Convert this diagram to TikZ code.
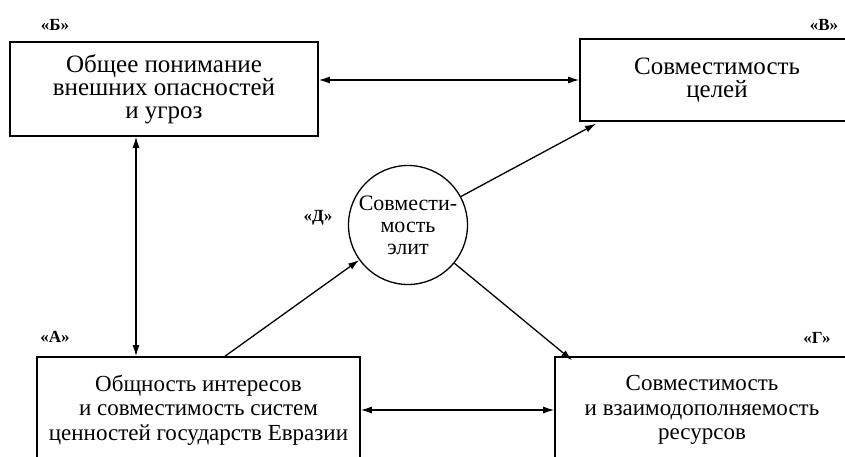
\documentclass[tikz,border=0pt]{standalone}
\usepackage{fontspec}
\setmainfont{Liberation Serif}
\usetikzlibrary{arrows.meta}
\begin{document}
\begin{tikzpicture}[x=1pt,y=-1pt,
  box/.style={draw, line width=1.6pt, align=center, inner sep=0pt,
    font=\fontsize{25}{23}\selectfont},
  smallbox/.style={box, font=\fontsize{23}{24.5}\selectfont},
  lab/.style={font=\bfseries\fontsize{17}{17}\selectfont, inner sep=0pt},
  conn/.style={line width=1.3pt, -{Latex[length=11pt,width=7pt]}},
  bconn/.style={line width=1.3pt, {Latex[length=11pt,width=7pt]}-{Latex[length=11pt,width=7pt]}}]
\useasboundingbox (0,0) rectangle (845,457);
\clip (0,0) rectangle (845,457);
\fill[white] (0,0) rectangle (845,457);
\node[box, minimum width=308pt, minimum height=94pt] (B) at (164,89)
  {Общее понимание\\внешних опасностей\\и угроз};
\node[box, minimum width=274pt, minimum height=82pt] (V) at (717,80)
  {Совместимость\\целей};
\node[smallbox, minimum width=323pt, minimum height=106pt] (A) at (198.5,410)
  {Общность интересов\\и совместимость систем\\ценностей государств Евразии};
\node[smallbox, minimum width=294pt, minimum height=106pt] (G) at (702,410)
  {Совместимость\\и взаимодополняемость\\ресурсов};
\node[draw, circle, line width=1.3pt, minimum size=119pt, inner sep=0pt, align=center,
  font=\fontsize{22}{22}\selectfont] (D) at (408,225) {Совмести-\\мость\\элит};
\node[lab] (lB) at (55,25) {«Б»};
\node[lab] (lV) at (824,25) {«В»};
\node[lab] (lA) at (55,337) {«А»};
\node[lab] (lG) at (817,338) {«Г»};
\node[lab] (lD) at (318,218) {«Д»};
\coordinate (vx) at (136,0);
\coordinate (ax) at (225,0);
\coordinate (bx) at (596,0);
\coordinate (gx) at (572,0);
\draw[bconn] (B.east |- V.west) -- (V.west);
\draw[bconn] (B.south -| vx) -- (A.north -| vx);
\draw[bconn] (A.east) -- (G.west);
\draw[conn] (A.north -| ax) -- (D);
\draw[conn] (D) -- ([yshift=-2pt]V.south -| bx);
\draw[conn] (D) -- ([yshift=-4pt]G.north -| gx);
\end{tikzpicture}
\end{document}
